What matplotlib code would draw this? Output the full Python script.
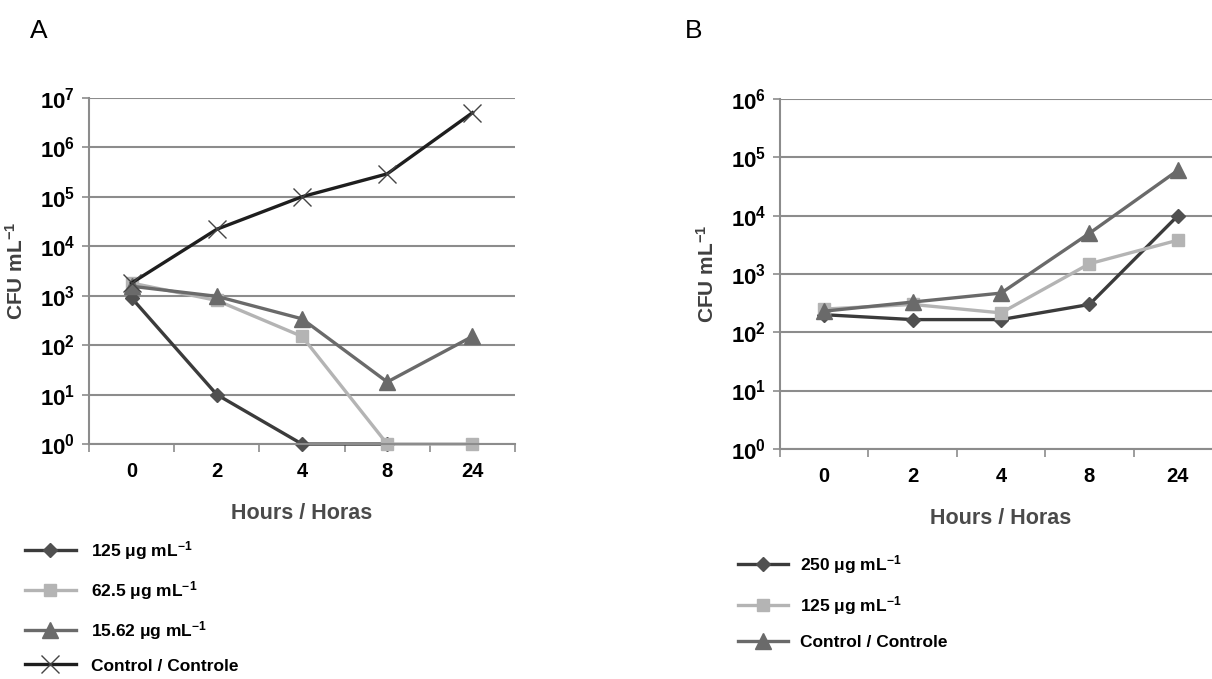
import numpy as np
import matplotlib
matplotlib.use("Agg")
import matplotlib.pyplot as plt

plt.rcParams['font.family'] = ['Liberation Sans', 'DejaVu Sans']
plt.rcParams['mathtext.fontset'] = 'custom'
plt.rcParams['mathtext.rm'] = 'Liberation Sans:bold'
plt.rcParams['mathtext.bf'] = 'Liberation Sans:bold'
plt.rcParams['mathtext.it'] = 'Liberation Sans:bold'

# datos
horas = ['0', '2', '4', '8', '24']

a_125 = [900, 10, 1, 1, np.nan]
a_62 = [1800, 800, 150, 1, 1]
a_15 = [1550, 970, 340, 18, 150]
a_ctrl = [1800, 22000, 100000, 290000, 5000000]

b_250 = [200, 165, 165, 300, 10000]
b_125 = [250, 300, 215, 1500, 3800]
b_ctrl = [230, 330, 470, 5000, 60000]

c_oscuro = '#3b3b3b'
c_claro = '#b4b4b4'
c_medio = '#6a6a6a'
c_ctrl = '#1e1e1e'
c_grid = '#8c8c8c'


def preparar_eje(ax, dec_max):
    x = np.arange(len(horas))
    ax.set_yscale('log')
    ax.set_ylim(1, 10 ** dec_max)
    ax.set_xlim(-0.5, len(horas) - 0.5)
    ax.set_yticks([10 ** k for k in range(dec_max + 1)])
    ax.set_yticklabels([r'$10^{%d}$' % k for k in range(dec_max + 1)], fontsize=16)
    ax.minorticks_off()
    ax.set_xticks(x)
    ax.set_xticklabels(horas, fontsize=14.5, fontweight='bold')
    ax.set_xticks(np.arange(-0.5, len(horas)), minor=True)
    ax.tick_params(axis='x', which='major', length=0, pad=13)
    ax.tick_params(axis='x', which='minor', length=6, color=c_grid, width=1.2)
    ax.tick_params(axis='y', length=5, color=c_grid, width=1.2, pad=5)
    ax.grid(True, axis='y', color=c_grid, linewidth=1.5)
    for s in ['top', 'right']:
        ax.spines[s].set_visible(False)
    for s in ['left', 'bottom']:
        ax.spines[s].set_color(c_grid)
        ax.spines[s].set_linewidth(1.5)
    ax.set_xlabel('Hours / Horas', fontsize=15.5, fontweight='bold', color='#4a4a4a', labelpad=16)
    ax.set_ylabel('CFU mL$^{-1}$', fontsize=15, fontweight='bold', color='#404040', labelpad=9)
    return x


fig = plt.figure(figsize=(12.12, 6.79), dpi=100)

axA = fig.add_axes([0.0734, 0.346, 0.3516, 0.51])
x = preparar_eje(axA, 7)
lA = []
lA += axA.plot(x, a_125, color=c_oscuro, lw=2.4, marker='D', ms=7, mfc='#505050', mec='#505050')
lA += axA.plot(x, a_62, color=c_claro, lw=2.4, marker='s', ms=9, mfc=c_claro, mec=c_claro)
lA += axA.plot(x, a_15, color=c_medio, lw=2.4, marker='^', ms=11, mfc=c_medio, mec=c_medio)
lA += axA.plot(x, a_ctrl, color=c_ctrl, lw=2.4, marker='x', ms=13, mew=1.0, mec='#444444')
for l in lA:
    l.set_clip_on(False)

axB = fig.add_axes([0.6436, 0.339, 0.3647, 0.515])
x = preparar_eje(axB, 6)
lB = []
lB += axB.plot(x, b_250, color=c_oscuro, lw=2.4, marker='D', ms=7, mfc='#505050', mec='#505050')
lB += axB.plot(x, b_125, color=c_claro, lw=2.4, marker='s', ms=9, mfc=c_claro, mec=c_claro)
lB += axB.plot(x, b_ctrl, color=c_medio, lw=2.4, marker='^', ms=11, mfc=c_medio, mec=c_medio)

fig.text(0.025, 0.955, 'A', fontsize=19, va='center')
fig.text(0.565, 0.955, 'B', fontsize=19, va='center')

fig.legend(lA, ['125 μg mL$^{-1}$', '62.5 μg mL$^{-1}$', '15.62 μg mL$^{-1}$', 'Control / Controle'],
           loc='upper left', bbox_to_anchor=(0.008, 0.229), frameon=False,
           prop={'weight': 'bold', 'size': 12.5}, handlelength=2.9, labelspacing=0.97,
           handletextpad=0.9)
fig.legend(lB, ['250 μg mL$^{-1}$', '125 μg mL$^{-1}$', 'Control / Controle'],
           loc='upper left', bbox_to_anchor=(0.596, 0.209), frameon=False,
           prop={'weight': 'bold', 'size': 12.5}, handlelength=2.9, labelspacing=1.05,
           handletextpad=0.7)

fig.savefig('out.png', dpi=100)
